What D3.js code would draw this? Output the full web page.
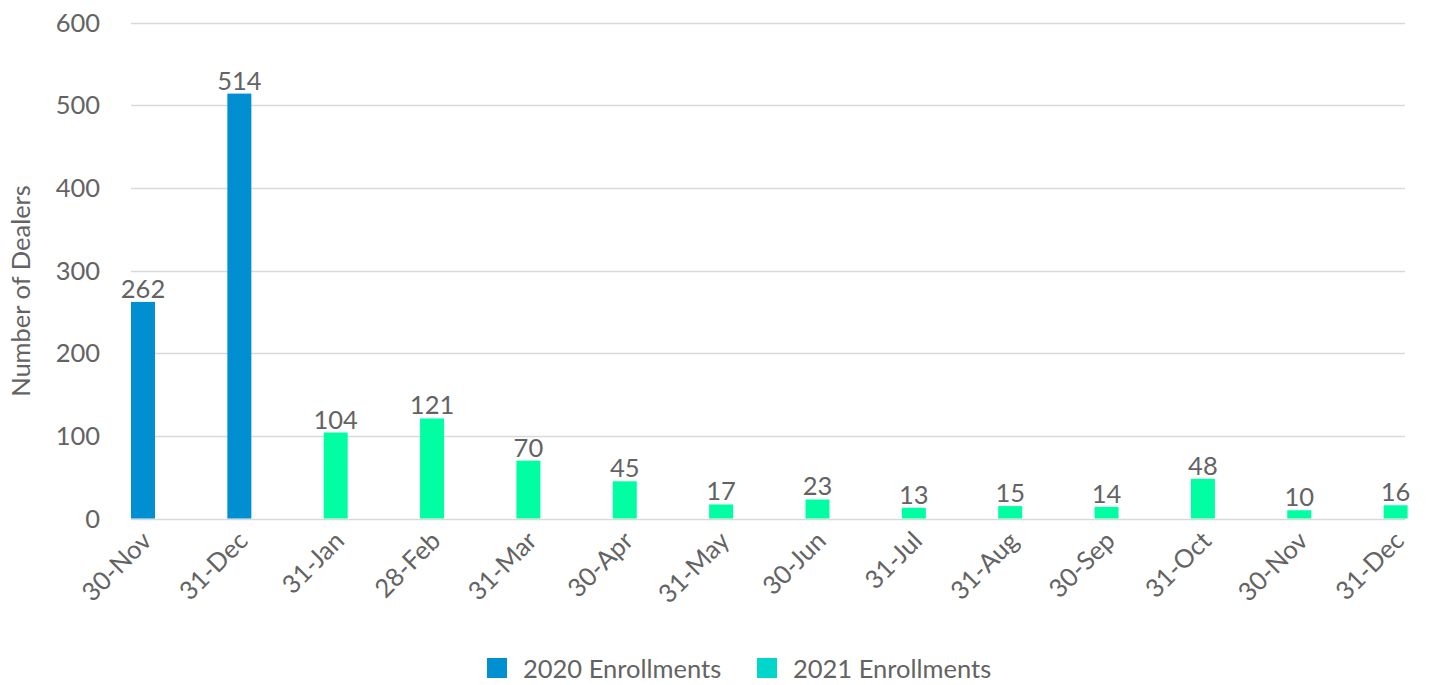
<!DOCTYPE html>
<html>
<head>
<meta charset="utf-8">
<script src="https://cdn.jsdelivr.net/npm/d3@7/dist/d3.min.js"></script>
<style>
  html, body { margin: 0; padding: 0; background: #ffffff; }
  svg { display: block; }
  text { font-family: Lato, "Open Sans", sans-serif; fill: #636363; }
</style>
</head>
<body>
<svg id="chart" width="1429" height="685"></svg>
<script>
// Month-end dates on the x axis
const categories = ["30-Nov", "31-Dec", "31-Jan", "28-Feb", "31-Mar", "30-Apr", "31-May",
                    "30-Jun", "31-Jul", "31-Aug", "30-Sep", "31-Oct", "30-Nov", "31-Dec"];
// Dealer enrollments per month (null where the series has no bar)
const enroll2020 = [262, 514, null, null, null, null, null, null, null, null, null, null, null, null];
const enroll2021 = [null, null, 104, 121, 70, 45, 17, 23, 13, 15, 14, 48, 10, 16];
const seriesNames = ["2020 Enrollments", "2021 Enrollments"];
const yTicks = [0, 100, 200, 300, 400, 500, 600];

const barColors = ["#008fd0", "#00ffa3"];
const legendColors = ["#008fd0", "#00d6c9"];
const FS = 25.5;

const svg = d3.select("#chart");
const plot = { left: 131, right: 1405, top: 22.5, bottom: 518.5 };

const idx = categories.map((_, i) => i);
const x = d3.scaleBand()
  .domain(idx)
  .range([plot.left, 1407.6])
  .paddingInner(0.751)
  .paddingOuter(0);

const y = d3.scaleLinear().domain([0, 600]).range([plot.bottom, plot.top]);

// Gridlines
svg.append("g")
  .selectAll("line")
  .data(yTicks)
  .join("line")
  .attr("x1", plot.left)
  .attr("x2", plot.right)
  .attr("y1", d => Math.round(y(d)) + 0.5)
  .attr("y2", d => Math.round(y(d)) + 0.5)
  .attr("stroke", "#d9d9d9")
  .attr("stroke-width", 1.3);

// Y axis labels
const yAxis = d3.axisLeft(y).tickValues(yTicks).tickSize(0).tickPadding(0);
const yg = svg.append("g").attr("transform", `translate(100,0)`).call(yAxis);
yg.select(".domain").remove();
yg.selectAll("text")
  .attr("font-size", FS)
  .attr("fill", "#636363")
  .attr("dy", "0.34em")
  .style("font-family", "Lato, sans-serif");

// Y axis title
svg.append("text")
  .attr("transform", `translate(30,${291}) rotate(-90)`)
  .attr("text-anchor", "middle")
  .attr("font-size", FS)
  .text("Number of Dealers");

// Bars for each series
const series = [enroll2020, enroll2021];
series.forEach((vals, s) => {
  const pts = vals.map((v, i) => ({ i, v })).filter(d => d.v != null);
  svg.append("g")
    .selectAll("rect")
    .data(pts)
    .join("rect")
    .attr("x", d => x(d.i))
    .attr("width", x.bandwidth())
    .attr("y", d => y(d.v))
    .attr("height", d => y(0) - y(d.v))
    .attr("fill", barColors[s]);

  svg.append("g")
    .selectAll("text")
    .data(pts)
    .join("text")
    .attr("x", d => x(d.i) + x.bandwidth() / 2)
    .attr("y", d => y(d.v) - 4)
    .attr("text-anchor", "middle")
    .attr("font-size", FS)
    .text(d => d.v);
});

// X axis category labels, rotated
const xg = svg.append("g");
xg.selectAll("text")
  .data(idx)
  .join("text")
  .attr("transform", i => `translate(${x(i) + x.bandwidth() / 2 + 10},${plot.bottom + 24}) rotate(-45)`)
  .attr("text-anchor", "end")
  .attr("font-size", FS)
  .text(i => categories[i]);

// Legend
const legend = svg.append("g").attr("transform", "translate(487,658)");
const legendX = [0, 270];
seriesNames.forEach((name, s) => {
  const g = legend.append("g").attr("transform", `translate(${legendX[s]},0)`);
  g.append("rect").attr("width", 20).attr("height", 20).attr("fill", legendColors[s]);
  g.append("text").attr("x", 36).attr("y", 20).attr("font-size", FS).text(name);
});
</script>
</body>
</html>
